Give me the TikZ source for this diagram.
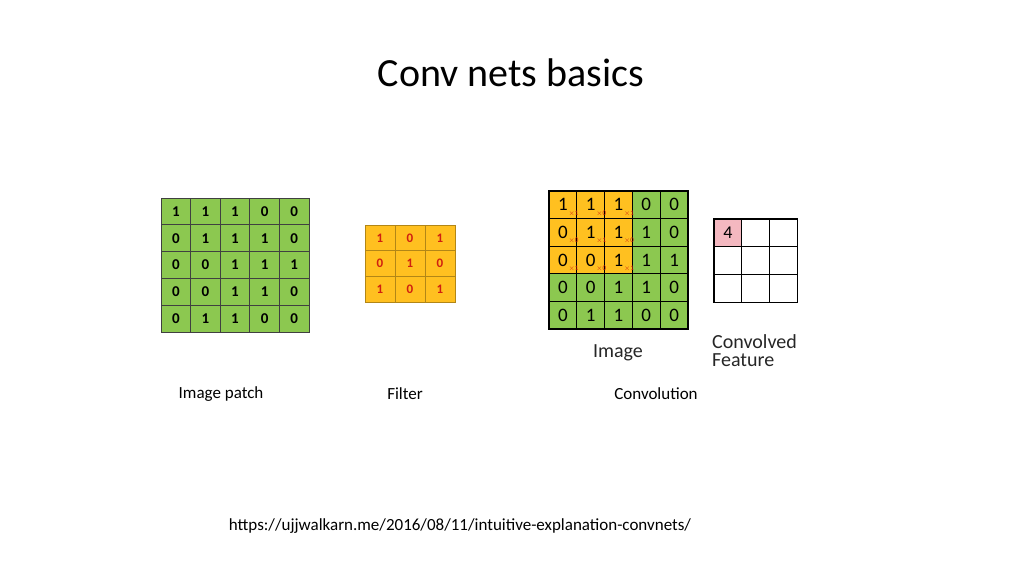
\documentclass[tikz,border=0pt]{standalone}
\usepackage{fontspec}
\setmainfont{Carlito}
\definecolor{gr}{HTML}{8CC850}
\definecolor{og}{HTML}{FFC020}
\definecolor{pk}{HTML}{F4B8C0}
\definecolor{rd}{HTML}{D02010}
\begin{document}
\begin{tikzpicture}[x=1pt,y=-1pt,
  cell/.style={draw=black!75,line width=0.8pt,minimum width=#1,inner sep=0pt,font=\fontsize{15}{15}\selectfont\bfseries},
  lbl/.style={font=\fontsize{17}{17}\selectfont}]
\useasboundingbox (0,0) rectangle (1024,576);
\node[font=\fontsize{40}{40}\selectfont] (title) at (511,73) {Conv nets basics};
% image patch
\def\rows{{1,1,1,0,0},{0,1,1,1,0},{0,0,1,1,1},{0,0,1,1,0},{0,1,1,0,0}}
\foreach \r [count=\i] in {{1,1,1,0,0},{0,1,1,1,0},{0,0,1,1,1},{0,0,1,1,0},{0,1,1,0,0}}
 \foreach \v [count=\j] in \r
  \node[cell=29.6pt,minimum height=26.8pt,fill=gr] (p-\i-\j) at ({161+29.6*(\j-0.5)},{198+26.8*(\i-0.5)}) {\v};
% filter
\foreach \r [count=\i] in {{1,0,1},{0,1,0},{1,0,1}}
 \foreach \v [count=\j] in \r
  \node[cell=30pt,minimum height=25.7pt,fill=og,text=rd,draw=og!70!black,font=\fontsize{13}{13}\selectfont\bfseries] (f-\i-\j) at ({365+30*(\j-0.5)},{225+25.7*(\i-0.5)}) {\v};
% convolution image
\foreach \r [count=\i] in {{1,1,1,0,0},{0,1,1,1,0},{0,0,1,1,1},{0,0,1,1,0},{0,1,1,0,0}}
 \foreach \v [count=\j] in \r {
  \pgfmathsetmacro\isf{(\i<4 && \j<4) ? 1 : 0}
  \ifdim\isf pt>0.5pt
   \node[cell=27.8pt,minimum height=27.6pt,fill=og,line width=1.2pt,draw=black,font=\fontsize{19}{19}\selectfont] (c-\i-\j) at ({549+27.8*(\j-0.5)},{191+27.6*(\i-0.5)}) {\v};
  \else
   \node[cell=27.8pt,minimum height=27.6pt,fill=gr,line width=1.2pt,draw=black,font=\fontsize{19}{19}\selectfont] (c-\i-\j) at ({549+27.8*(\j-0.5)},{191+27.6*(\i-0.5)}) {\v};
  \fi}
\foreach \i/\j/\w in {1/1/1,1/2/0,1/3/1,2/1/0,2/2/1,2/3/0,3/1/1,3/2/0,3/3/1}
  \node[text=rd,font=\fontsize{7}{7}\selectfont,inner sep=0pt] (w-\i-\j) at ([xshift=-4pt,yshift=6pt]c-\i-\j.south east) {$\times$\w};
% convolved feature
\foreach \i in {1,2,3}
 \foreach \j in {1,2,3}
  \node[cell=27.7pt,minimum height=27.7pt,fill=white,line width=1.2pt,draw=black,font=\fontsize{18}{18}\selectfont] (o-\i-\j) at ({714+27.7*(\j-0.5)},{219+27.7*(\i-0.5)}) {};
\node[fill=pk,draw=black,line width=1.2pt,minimum size=27.7pt,inner sep=0pt,font=\fontsize{18}{18}\selectfont] (o4) at (o-1-1) {4};
\node[font=\fontsize{20}{20}\selectfont,text=black!85] (imgl) at (618,353) {Image};
\node[font=\fontsize{20}{20}\selectfont,text=black!85,align=left,anchor=west,inner sep=0pt] (cfl) at (712,351) {Convolved\\[-2pt]Feature};
\node[lbl] (l1) at (221,394) {Image patch};
\node[lbl] (l2) at (405,394) {Filter};
\node[lbl] (l3) at (656,394) {Convolution};
\node[lbl] (url) at (460,526) {https://ujjwalkarn.me/2016/08/11/intuitive-explanation-convnets/};
\end{tikzpicture}
\end{document}
